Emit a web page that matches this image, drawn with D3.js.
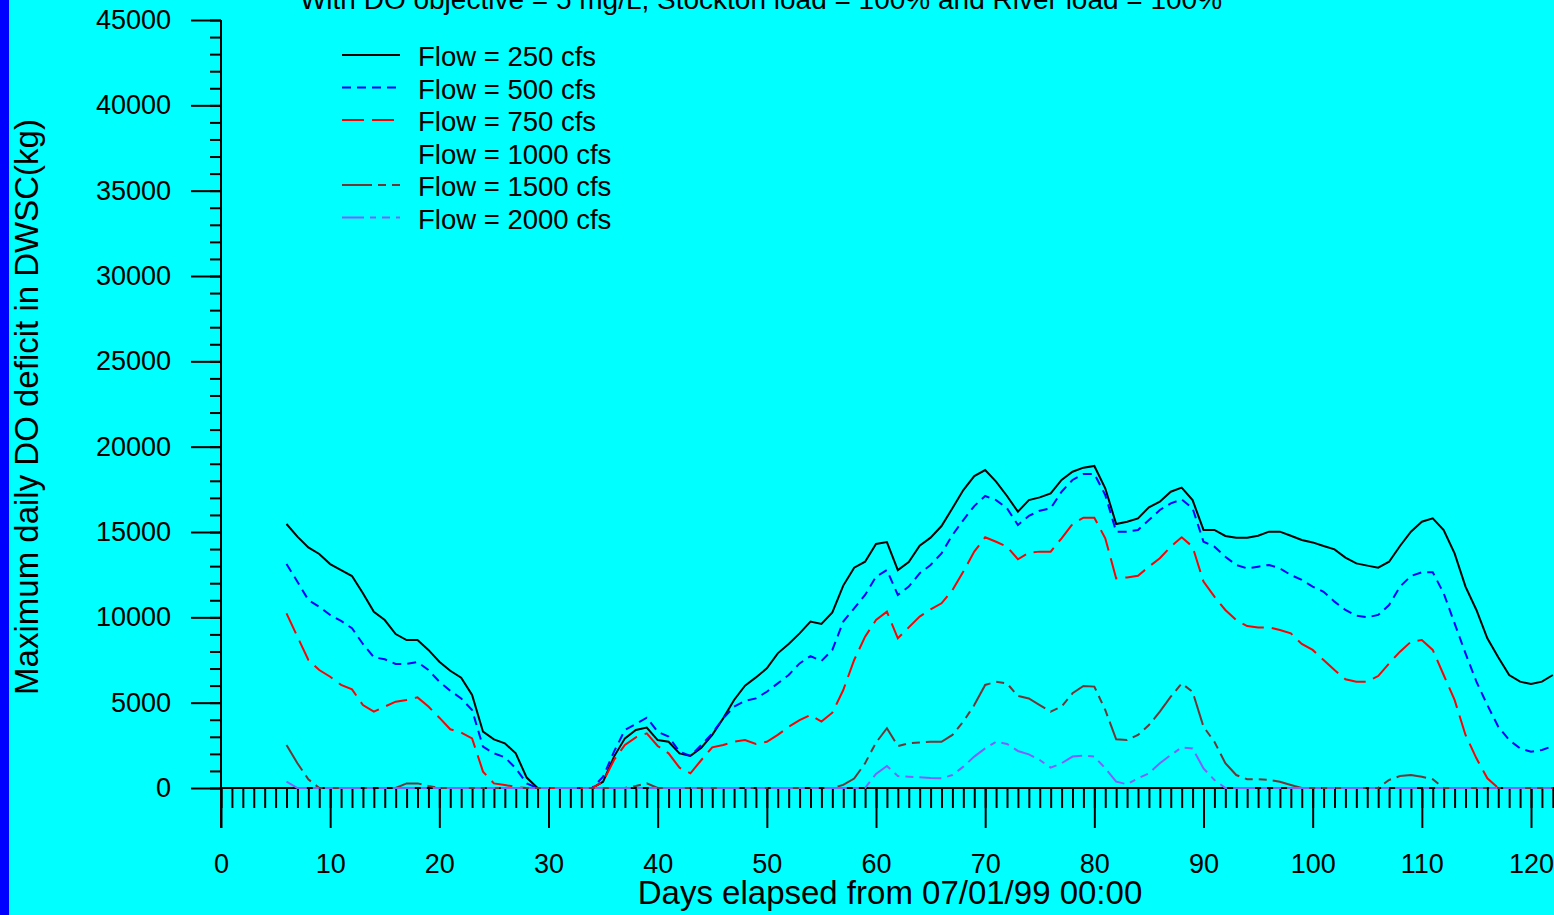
<!DOCTYPE html>
<html>
<head>
<meta charset="utf-8">
<script src="https://cdn.jsdelivr.net/npm/d3@7"></script>
<style>
  body { margin: 0; background: #00ffff; overflow: hidden; }
  svg { display: block; }
  text { font-family: "Liberation Sans", Arial, sans-serif; fill: #000; }
</style>
</head>
<body>
<svg id="chart" width="1554" height="915"></svg>
<script>
// days 6..122, one value per day (kg)
const days = d3.range(6, 123);

const flow250 = [
  15470, 14730, 14100, 13710, 13120, 12770, 12420, 11410, 10330, 9840,
  9020, 8670, 8670, 8090, 7400, 6870, 6460, 5450, 3300, 2850,
  2620, 2030, 610, 0, 0, 0, 0, 0, 0, 370,
  1840, 2910, 3400, 3540, 2810, 2710, 2030, 1880, 2360, 3110,
  4080, 5160, 6000, 6480, 7010, 7890, 8440, 9060, 9750, 9610,
  10290, 11860, 12910, 13260, 14300, 14410, 12770, 13240, 14200, 14670,
  15350, 16390, 17460, 18280, 18630, 17950, 17110, 16190, 16870, 17030,
  17260, 18050, 18530, 18770, 18870, 17560, 15470, 15600, 15800, 16450,
  16780, 17360, 17600, 16870, 15120, 15120, 14770, 14670, 14670, 14780,
  15020, 15020, 14780, 14530, 14390, 14180, 13980, 13500, 13160, 13030,
  12910, 13260, 14180, 15020, 15600, 15800, 15120, 13750, 11800, 10430,
  8770, 7660, 6620, 6230, 6090, 6230, 6620
];

const flow500 = [
  13120, 12090, 11020, 10620, 10140, 9790, 9360, 8440, 7660, 7540,
  7270, 7270, 7380, 6910, 6230, 5700, 5250, 4570, 2420, 2030,
  1800, 1150, 270, 0, 0, 0, 0, 0, 0, 660,
  2130, 3400, 3750, 4120, 3300, 3010, 2130, 1880, 2520, 3200,
  4080, 4770, 5100, 5250, 5640, 6130, 6620, 7300, 7730, 7440,
  8090, 9750, 10530, 11310, 12380, 12770, 11310, 11800, 12580, 13070,
  13750, 14820, 15700, 16520, 17110, 16870, 16390, 15410, 15940, 16250,
  16390, 17360, 18050, 18400, 18400, 17170, 15020, 15020, 15120, 15700,
  16290, 16680, 16910, 16390, 14430, 14140, 13550, 13070, 12870, 12970,
  13070, 12870, 12480, 12190, 11800, 11500, 10920, 10430, 10100, 10000,
  10140, 10720, 11800, 12420, 12640, 12640, 11410, 9650, 7890, 6230,
  4860, 3590, 2810, 2320, 2130, 2230, 2460
];

const flow750 = [
  10230, 8870, 7500, 6910, 6520, 6040, 5780, 4860, 4470, 4770,
  5060, 5160, 5310, 4770, 4120, 3440, 3240, 2910, 960, 270,
  180, 60, 0, 0, 0, 0, 0, 0, 0, 370,
  1640, 2520, 2970, 3200, 2460, 2030, 1190, 860, 1640, 2380,
  2520, 2710, 2810, 2580, 2710, 3110, 3590, 3980, 4280, 3890,
  4410, 5740, 7500, 8870, 9840, 10330, 8770, 9410, 10040, 10470,
  10820, 11600, 12680, 13850, 14690, 14430, 14140, 13400, 13790, 13850,
  13850, 14630, 15470, 15840, 15840, 14630, 12280, 12340, 12440, 12970,
  13460, 14140, 14690, 14140, 12090, 11210, 10430, 9840, 9490, 9410,
  9410, 9260, 9060, 8440, 8090, 7500, 6910, 6370, 6230, 6230,
  6560, 7300, 7990, 8570, 8670, 8090, 6620, 5160, 3110, 1740,
  570, 0, 0, 0, 0, 0, 0
];

const flow1500 = [
  2520, 1450, 510, 0, 0, 0, 0, 0, 0, 0,
  0, 270, 270, 120, 0, 0, 0, 0, 0, 0,
  0, 0, 0, 0, 0, 0, 0, 0, 0, 0,
  0, 0, 120, 270, 0, 0, 0, 0, 0, 0,
  0, 0, 0, 0, 0, 0, 0, 0, 0, 0,
  0, 180, 550, 1450, 2660, 3500, 2460, 2620, 2660, 2710,
  2710, 3110, 3890, 4860, 6040, 6230, 6130, 5390, 5250, 4860,
  4470, 4770, 5550, 5980, 5940, 4570, 2850, 2810, 3110, 3690,
  4470, 5350, 6130, 5640, 3590, 2710, 1450, 760, 510, 510,
  470, 370, 180, 0, 0, 0, 0, 0, 0, 0,
  0, 470, 700, 760, 660, 510, 0, 0, 0, 0,
  0, 0, 0, 0, 0, 0, 0
];

const flow2000 = [
  370, 0, 0, 0, 0, 0, 0, 0, 0, 0,
  0, 0, 0, 0, 0, 0, 0, 0, 0, 0,
  0, 0, 0, 0, 0, 0, 0, 0, 0, 0,
  0, 0, 0, 0, 0, 0, 0, 0, 0, 0,
  0, 0, 0, 0, 0, 0, 0, 0, 0, 0,
  0, 0, 0, 0, 820, 1290, 700, 660, 630, 590,
  570, 760, 1250, 1840, 2320, 2710, 2580, 2170, 1970, 1640,
  1190, 1450, 1840, 1900, 1840, 1150, 370, 220, 570, 860,
  1450, 1930, 2380, 2320, 1150, 470, 0, 0, 0, 0,
  0, 0, 0, 0, 0, 0, 0, 0, 0, 0,
  0, 0, 0, 0, 0, 0, 0, 0, 0, 0,
  0, 0, 0, 0, 0, 0, 0
];

const legendLabels = ["Flow = 250 cfs", "Flow = 500 cfs", "Flow = 750 cfs", "Flow = 1000 cfs", "Flow = 1500 cfs", "Flow = 2000 cfs"];
const xTicks = d3.range(0, 121, 10);
const yTicks = d3.range(0, 45001, 5000);

// series drawn in this order; 1000 cfs is drawn in the background colour, so no line shows
const series = [
  { label: legendLabels[0], values: flow250, color: "#000000", dash: null },
  { label: legendLabels[1], values: flow500, color: "#0000ff", dash: "9,6" },
  { label: legendLabels[2], values: flow750, color: "#ff0000", dash: "22,8" },
  { label: legendLabels[3], values: null, color: "#00ffff", dash: null },
  { label: legendLabels[4], values: flow1500, color: "#703636", dash: "30,6,8,6,8,6" },
  { label: legendLabels[5], values: flow2000, color: "#7f60ff", dash: "22,6,6,6,8,6" }
];

const width = 1554, height = 915;
const svg = d3.select("#chart");

svg.append("rect").attr("width", width).attr("height", height).attr("fill", "#00ffff");
svg.append("rect").attr("width", 9).attr("height", height).attr("fill", "#0000ff");

const x = d3.scaleLinear().domain([0, 120]).range([221, 1531]);
const y = d3.scaleLinear().domain([0, 45000]).range([788, 20]);

const styleAxis = (g, size) => {
  g.attr("font-family", null).attr("font-size", size);
  g.select(".domain").remove();
  g.selectAll("line").attr("stroke", "#000").attr("stroke-width", 2);
};

// x axis: a tick every day, longer labelled ticks every 10 days
svg.append("g")
  .attr("transform", `translate(0,${y(0)})`)
  .call(d3.axisBottom(x).tickValues(d3.range(0, 123)).tickSize(20).tickFormat(""))
  .call(g => styleAxis(g, 27));

svg.append("g")
  .attr("transform", `translate(0,${y(0)})`)
  .call(d3.axisBottom(x).tickValues(xTicks).tickSize(40).tickPadding(26).tickFormat(d3.format("d")))
  .call(g => styleAxis(g, 27));

// y axis: minor every 1000, major every 5000
svg.append("g")
  .attr("transform", `translate(${x(0)},0)`)
  .call(d3.axisLeft(y).tickValues(d3.range(0, 45001, 1000)).tickSize(11).tickFormat(""))
  .call(g => styleAxis(g, 27));

svg.append("g")
  .attr("transform", `translate(${x(0)},0)`)
  .call(d3.axisLeft(y).tickValues(yTicks).tickSize(30).tickPadding(20).tickFormat(d3.format("d")))
  .call(g => styleAxis(g, 27));

svg.append("line")
  .attr("x1", x(0)).attr("x2", x(0))
  .attr("y1", y(45000)).attr("y2", y(0) + 40)
  .attr("stroke", "#000").attr("stroke-width", 2);

svg.append("line")
  .attr("x1", x(0)).attr("x2", width)
  .attr("y1", y(0)).attr("y2", y(0))
  .attr("stroke", "#000").attr("stroke-width", 2);

const line = d3.line()
  .x((d, i) => x(days[i]))
  .y(d => y(d));

series.filter(s => s.values).forEach(s => {
  svg.append("path")
    .datum(s.values)
    .attr("d", line)
    .attr("fill", "none")
    .attr("stroke", s.color)
    .attr("stroke-width", 2)
    .attr("stroke-dasharray", s.dash);
});

// legend
const legend = svg.append("g");
series.forEach((s, i) => {
  const by = 66 + i * 32.5;
  legend.append("line")
    .attr("x1", 342).attr("x2", 400)
    .attr("y1", by - 11).attr("y2", by - 11)
    .attr("stroke", s.color)
    .attr("stroke-width", 2)
    .attr("stroke-dasharray", s.dash);
  legend.append("text")
    .attr("x", 418).attr("y", by)
    .attr("font-size", 27.5)
    .text(s.label);
});

// titles
svg.append("text")
  .attr("x", 761).attr("y", 9)
  .attr("text-anchor", "middle")
  .attr("font-size", 28)
  .text("With DO objective = 5 mg/L, Stockton load = 100% and River load = 100%");

svg.append("text")
  .attr("x", 890).attr("y", 904)
  .attr("text-anchor", "middle")
  .attr("font-size", 33)
  .text("Days elapsed from 07/01/99 00:00");

svg.append("text")
  .attr("transform", "translate(38,407) rotate(-90)")
  .attr("text-anchor", "middle")
  .attr("font-size", 33)
  .text("Maximum daily DO deficit in DWSC(kg)");
</script>
</body>
</html>
